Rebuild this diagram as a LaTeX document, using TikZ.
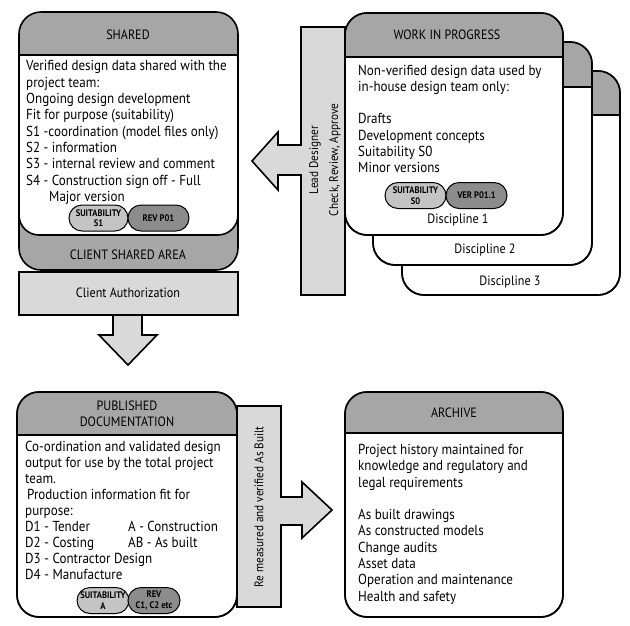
\documentclass[tikz,border=0pt]{standalone}
\usepackage{fontspec}
\setmainfont{PT Sans}[FakeStretch=0.9]
\usepackage{tikz}
\usetikzlibrary{shapes.misc}

\definecolor{hdrgray}{HTML}{A6A6A6}
\definecolor{arrgray}{HTML}{D9D9D9}
\definecolor{pilllight}{HTML}{C4C4C4}
\definecolor{pilldark}{HTML}{8C8C8C}

\tikzset{
  box/.style={line width=1.6pt, rounded corners=22},
  body/.style={anchor=north west, align=left, inner sep=0pt, font=\fontsize{14.5}{16.3}\selectfont},
  hdr/.style={align=center, inner sep=0pt, font=\fontsize{13.5}{16.5}\selectfont},
  label/.style={font=\fontsize{13.5}{16}\selectfont},
  pill/.style={rounded rectangle, draw, line width=1pt, inner sep=0pt, minimum height=26,
    align=center, font=\bfseries\fontsize{9.5}{10.5}\selectfont},
  blockarrow/.style={fill=arrgray, draw, line width=1.6pt, line join=miter},
}

% box with grey header band: x1, y1, x2, y2, header bottom
\newcommand{\stagebox}[5]{%
  \filldraw[fill=white, box] (#1,#2) rectangle (#3,#4);
  \begin{scope}
    \clip[rounded corners=22] (#1,#2) rectangle (#3,#4);
    \fill[hdrgray] (#1,#2) rectangle (#3,#5);
  \end{scope}
  \draw[line width=1.6pt] (#1,#5) -- (#3,#5);
  \draw[box] (#1,#2) rectangle (#3,#4);
}

\begin{document}
\begin{tikzpicture}[x=1pt, y=-1pt]
  \useasboundingbox (0,0) rectangle (630,625);

  % Shared + client shared area
  \fill[hdrgray, rounded corners=22] (19,12) rectangle (238,270);
  \filldraw[fill=white, line width=1.6pt, rounded corners=20] (19,40) rectangle (238,235);
  \begin{scope}
    \clip[rounded corners=22] (19,12) rectangle (238,270);
    \fill[hdrgray] (19,12) rectangle (238,55);
  \end{scope}
  \draw[line width=1.6pt] (19,55) -- (238,55);
  \draw[box] (19,12) rectangle (238,270);
  \node[hdr] (shared) at (128,35) {SHARED};
  \node[hdr] (clientarea) at (128,255) {CLIENT SHARED AREA};
  \node[body] (sharedtxt) at (26,60.5) {Verified design data shared with the\\
    project team:\\
    Ongoing design development\\
    Fit for purpose (suitability)\\
    S1 -coordination (model files only)\\
    S2 - information\\
    S3 - internal review and comment\\
    S4 - Construction sign off - Full\\
    \hspace*{23pt}Major version};
  \node[pill, fill=pilllight, minimum width=59] (suitS1) at (98.5,218) {SUITABILITY\\S1};
  \node[pill, fill=pilldark, minimum width=61] (revP01) at (158.5,218) {REV P01};

  % Client authorization + down arrow
  \filldraw[blockarrow] (113,315) -- (113,335) -- (99,335) -- (128,365) -- (157,335) -- (142,335) -- (142,315);
  \filldraw[blockarrow] (19,272) rectangle (238,315);
  \node[label] (clientauth) at (128,293) {Client Authorization};

  % Lead designer arrow
  \filldraw[blockarrow] (301,27) -- (345,27) -- (345,295) -- (301,295) -- (301,175) -- (278,175)
    -- (278,190) -- (252,161) -- (278,132) -- (278,145) -- (301,145) -- cycle;
  \node[rotate=90, align=center, font=\fontsize{12.5}{20}\selectfont] (lead) at (325,160)
    {Lead Designer\\Check, Review, Approve};

  % Work in progress stack
  \stagebox{402}{71}{620}{295}{115}
  \node[label] (disc3) at (510,282) {Discipline 3};
  \stagebox{373}{42}{592}{265}{87}
  \node[label] (disc2) at (485,250) {Discipline 2};
  \stagebox{345}{13}{563}{235}{57}
  \node[label] (disc1) at (458,220) {Discipline 1};
  \node[hdr] (wip) at (447,35) {WORK IN PROGRESS};
  \node[body] (wiptxt) at (358,64.5) {Non-verified design data used by\\
    in-house design team only:\\
    \mbox{}\\
    Drafts\\
    Development concepts\\
    Suitability S0\\
    Minor versions};
  \node[pill, fill=pilllight, minimum width=61] (suitS0) at (415.5,195.5) {SUITABILITY\\S0};
  \node[pill, fill=pilldark, minimum width=61] (verP011) at (476.5,195.5) {VER P01.1};

  % Published documentation
  \stagebox{17}{392}{237}{617}{435}
  \node[hdr] (published) at (127,414) {PUBLISHED\\DOCUMENTATION};
  \node[body, font=\fontsize{14.5}{16}\selectfont] (pubtxt) at (25,441) {Co-ordination and validated design\\
    output for use by the total project\\
    team.\\
    \hspace*{2pt}Production information fit for\\
    purpose:\\
    \makebox[103pt][l]{D1 - Tender}A - Construction\\
    \makebox[103pt][l]{D2 - Costing}AB - As built\\
    D3 - Contractor Design\\
    D4 - Manufacture};
  \node[pill, fill=pilllight, minimum width=50] (suitA) at (103,600.5) {SUITABILITY\\A};
  \node[pill, fill=pilldark, minimum width=52] (revC) at (154,600.5) {REV\\C1, C2 etc};

  % As built arrow
  \filldraw[blockarrow] (237,406) -- (281,406) -- (281,497) -- (302,497) -- (302,482) -- (332,510)
    -- (302,538) -- (302,525) -- (281,525) -- (281,607) -- (237,607) -- cycle;
  \node[rotate=90, font=\fontsize{12.5}{16}\selectfont] (asbuilt) at (259,507)
    {Re measured and verified As Built};

  % Archive
  \stagebox{345}{392}{563}{617}{433}
  \node[hdr] (archive) at (454,413) {ARCHIVE};
  \node[body] (archtxt) at (358,444) {Project history maintained for\\
    knowledge and regulatory and\\
    legal requirements\\
    \mbox{}\\
    As built drawings\\
    As constructed models\\
    Change audits\\
    Asset data\\
    Operation and maintenance\\
    Health and safety};
\end{tikzpicture}
\end{document}
